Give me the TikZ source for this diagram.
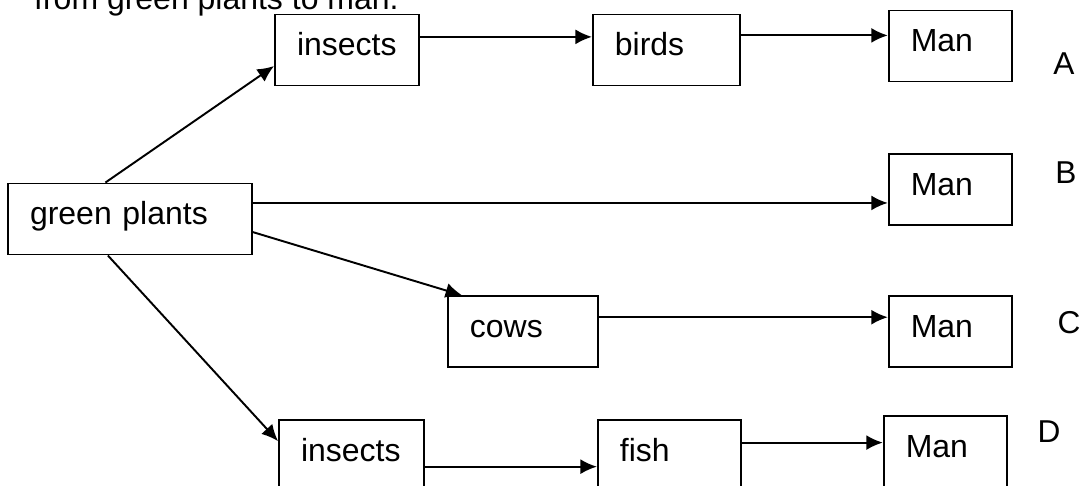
\documentclass[tikz,border=0pt]{standalone}
\usepackage{fontspec}
\setmainfont{Liberation Sans}
\usetikzlibrary{arrows.meta, positioning, calc}

\begin{document}
\begin{tikzpicture}[
  x=0.02cm, y=-0.02cm,
  box/.style={draw, line width=1.1pt, text width=#1, align=left, inner xsep=0.44cm, inner ysep=0pt, text height=0.82cm, text depth=0.6cm, font=\fontsize{18.2}{21}\selectfont},
  box/.default=1.58cm,
  arr/.style={-{Latex[length=3.3mm, width=3mm]}, line width=1.1pt},
  tag/.style={font=\fontsize{18}{21}\selectfont}
]
  \useasboundingbox (0,0) rectangle (1086,486);
  \clip (0,0) rectangle (1086,486);
  \node[anchor=base west, font=\fontsize{18.2}{21}\selectfont] (title) at (28,10) {from green plants to man.};
  \node[box=4.0cm] (plants) at (130,219) {green plants};
  \node[box=2.0cm] (insA) at (347,50) {insects};
  \node[box=2.06cm, right=3.44cm of insA] (birds) {birds};
  \node[box, right=2.94cm of birds, yshift=0.08cm] (manA) {Man};
  \node[box, below=1.42cm of manA] (manB) {Man};
  \node[box, below=1.38cm of manB] (manC) {Man};
  \node[box, below=0.94cm of manC, xshift=-0.1cm] (manD) {Man};
  \node[box=2.12cm, left=5.78cm of manC] (cows) {cows};
  \node[box=1.98cm, left=2.82cm of manD, yshift=-0.08cm] (fish) {fish};
  \node[box=2.02cm, left=3.44cm of fish] (insD) {insects};
  \node[tag] (labA) at (1064,64) {A};
  \node[tag] (labB) at (1066,173) {B};
  \node[tag] (labC) at (1069,323) {C};
  \node[tag] (labD) at (1049,432) {D};
  \draw[arr] ($(plants.north west)!0.4!(plants.north east)$) -- ($(insA.north west)!0.72!(insA.south west)$);
  \draw[arr] ($(insA.north east)!0.32!(insA.south east)$) coordinate (p1) -- (p1 -| birds.west);
  \draw[arr] ($(birds.north east)!0.3!(birds.south east)$) coordinate (p2) -- (p2 -| manA.west);
  \draw[arr] ($(plants.north east)!0.28!(plants.south east)$) coordinate (p3) -- (p3 -| manB.west);
  \draw[arr] ($(plants.north east)!0.68!(plants.south east)$) -- ($(cows.north west)!0.1!(cows.north east)$);
  \draw[arr] ($(cows.north east)!0.3!(cows.south east)$) coordinate (p4) -- (p4 -| manC.west);
  \draw[arr] ($(plants.south west)!0.41!(plants.south east)$) -- ($(insD.north west)!0.3!(insD.south west)$);
  \draw[arr] ($(insD.north east)!0.65!(insD.south east)$) coordinate (p5) -- (p5 -| fish.west);
  \draw[arr] ($(fish.north east)!0.32!(fish.south east)$) coordinate (p6) -- (p6 -| manD.west);
\end{tikzpicture}
\end{document}
